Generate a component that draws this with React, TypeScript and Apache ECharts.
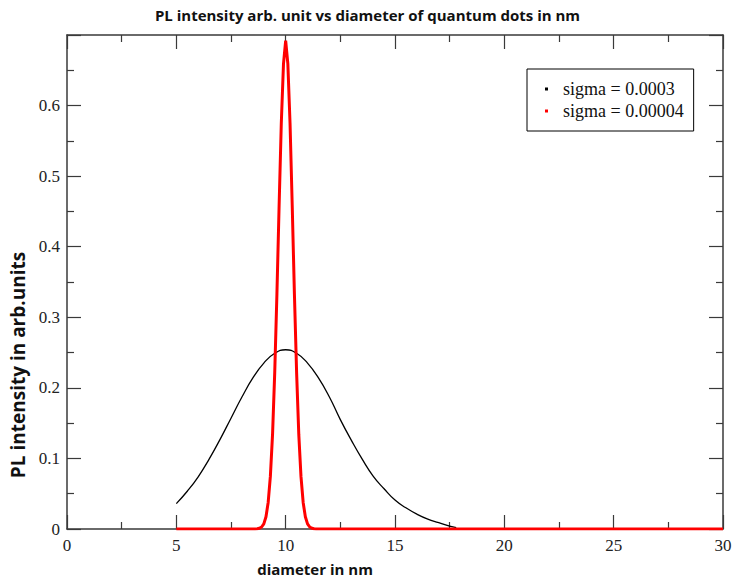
import React, { useEffect, useRef } from "react";
import * as echarts from "echarts";

const titleText = "PL intensity arb. unit vs diameter of quantum dots in nm";
const xAxisName = "diameter in nm";
const yAxisName = "PL intensity in arb.units";
const seriesNames = ["sigma = 0.0003", "sigma = 0.00004"];

const xBlack = [5, 5.5, 6, 6.5, 7, 7.5, 8, 8.5, 9, 9.5, 10, 10.5, 11, 11.5, 12, 12.5, 13, 13.5, 14, 14.5, 15, 15.5, 16, 16.5, 17, 17.5, 17.8];
const yBlack = [0.036, 0.0535, 0.074, 0.099, 0.127, 0.157, 0.187, 0.214, 0.235, 0.249, 0.254, 0.249, 0.235, 0.214, 0.187, 0.155, 0.126, 0.099, 0.075, 0.057, 0.041, 0.03, 0.021, 0.014, 0.009, 0.004, 0.002];

const xRed = [5, 8.5, 8.6, 8.7, 8.8, 8.9, 9.0, 9.1, 9.2, 9.3, 9.4, 9.5, 9.6, 9.7, 9.8, 9.9, 10.0, 10.1, 10.2, 10.3, 10.4, 10.5, 10.6, 10.7, 10.8, 10.9, 11.0, 11.1, 11.2, 11.3, 11.4, 11.5, 30];
const yRed = [0, 0, 0.0001, 0.0003, 0.001, 0.0028, 0.0073, 0.0174, 0.0376, 0.0745, 0.134, 0.222, 0.333, 0.458, 0.575, 0.659, 0.692, 0.659, 0.575, 0.458, 0.333, 0.222, 0.134, 0.0745, 0.0376, 0.0174, 0.0073, 0.0028, 0.001, 0.0003, 0.0001, 0, 0];

const xTicks = { min: 0, max: 30, interval: 5 };
const yTicks = { min: 0, max: 0.7, interval: 0.1 };

export default function App() {
  const ref = useRef<HTMLDivElement>(null);
  useEffect(() => {
    if (!ref.current) return;
    const chart = echarts.init(ref.current, null, { renderer: "svg" });
    const axisColor = "#3a3a3a";
    const labelFont = { fontFamily: "Liberation Serif", fontSize: 17, color: "#222" };
    const nameFont = { fontFamily: "Open Sans", fontWeight: "bold" as const, color: "#111" };
    const tickCommon = {
      axisLine: { show: true, onZero: false, lineStyle: { color: axisColor, width: 1.5 } },
      axisTick: { show: true, inside: true, length: 14, lineStyle: { color: axisColor, width: 1.2 } },
      minorTick: { show: true, splitNumber: 2, length: 7, lineStyle: { color: axisColor, width: 1.2 } },
      splitLine: { show: false },
    };
    chart.setOption({
      animation: false,
      backgroundColor: "#fff",
      title: {
        text: titleText,
        left: "center",
        top: 2,
        textStyle: { ...nameFont, fontSize: 15 },
      },
      grid: { left: 67, right: 12, top: 35, bottom: 53, containLabel: false },
      legend: {
        left: 527,
        top: 69,
        orient: "vertical",
        borderColor: "#000",
        borderWidth: 1,
        borderRadius: 0,
        padding: [11, 10, 11, 18],
        itemGap: 4,
        itemWidth: 3,
        itemHeight: 3,
        icon: "rect",
        textStyle: { fontFamily: "Liberation Serif", fontSize: 18, color: "#111", padding: [0, 0, 0, 10] },
        data: [
          { name: seriesNames[0], itemStyle: { color: "#000" } },
          { name: seriesNames[1], itemStyle: { color: "#f00" } },
        ],
      },
      xAxis: [
        {
          type: "value",
          position: "bottom",
          ...xTicks,
          ...tickCommon,
          axisLabel: { ...labelFont, margin: 8 },
          name: xAxisName,
          nameLocation: "middle",
          nameGap: 32,
          nameTextStyle: { ...nameFont, fontSize: 15, padding: [0, 160, 0, 0] },
        },
        {
          type: "value",
          position: "top",
          ...xTicks,
          ...tickCommon,
          axisLabel: { show: false },
        },
      ],
      yAxis: [
        {
          type: "value",
          position: "left",
          ...yTicks,
          ...tickCommon,
          axisLabel: { ...labelFont, margin: 7, showMaxLabel: false },
          name: yAxisName,
          nameLocation: "middle",
          nameGap: 37,
          nameTextStyle: { ...nameFont, fontSize: 19, padding: [0, 166, 0, 0] },
        },
        {
          type: "value",
          position: "right",
          ...yTicks,
          ...tickCommon,
          axisLabel: { show: false },
        },
      ],
      series: [
        {
          name: seriesNames[0],
          type: "line",
          xAxisIndex: 0,
          yAxisIndex: 0,
          smooth: true,
          symbol: "none",
          lineStyle: { color: "#000", width: 1.3 },
          itemStyle: { color: "#000" },
          data: xBlack.map((x, i) => [x, yBlack[i]]),
          z: 2,
        },
        {
          name: seriesNames[1],
          type: "line",
          xAxisIndex: 0,
          yAxisIndex: 0,
          symbol: "none",
          lineStyle: { color: "#f00", width: 3 },
          itemStyle: { color: "#f00" },
          data: xRed.map((x, i) => [x, yRed[i]]),
          z: 3,
        },
      ],
    });
    return () => chart.dispose();
  }, []);
  return <div ref={ref} style={{ position: "fixed", left: 0, top: 0, width: 735, height: 582 }} />;
}
